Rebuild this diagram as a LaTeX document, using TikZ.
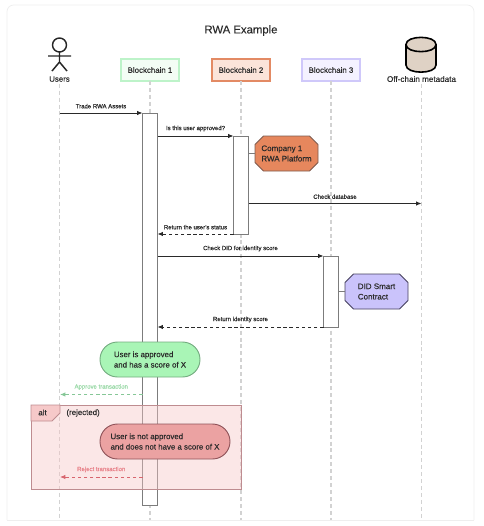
\documentclass[tikz,border=0pt]{standalone}
\usepackage{fontspec}
\setmainfont{Liberation Sans}[FakeBold=0.15]
\newfontfamily\lblf{Liberation Sans}[FakeBold=0.4]
\usetikzlibrary{shapes.misc,shapes.geometric,arrows.meta}
\definecolor{ink}{HTML}{2A2A2A}
\definecolor{lifegray}{HTML}{D2D2D2}
\definecolor{actgray}{HTML}{7C7C7C}
\definecolor{cardgray}{HTML}{EEEEEE}
\definecolor{h1b}{HTML}{BDF3C9}\definecolor{h1f}{HTML}{F3FDF5}
\definecolor{h2b}{HTML}{E38A64}\definecolor{h2f}{HTML}{FBE4DA}
\definecolor{h3b}{HTML}{CFC8FA}\definecolor{h3f}{HTML}{F4F2FF}
\definecolor{dbf}{HTML}{DFD2C5}
\definecolor{cof}{HTML}{E6875D}\definecolor{cob}{HTML}{7D5A4E}
\definecolor{didf}{HTML}{CAC3FB}\definecolor{didb}{HTML}{45405E}
\definecolor{okf}{HTML}{A9F5B6}\definecolor{okb}{HTML}{74AC80}
\definecolor{nof}{HTML}{EBA2A2}\definecolor{nob}{HTML}{90545A}
\definecolor{altf}{HTML}{F6C6C6}\definecolor{altb}{HTML}{BE8C90}
\definecolor{tabf}{HTML}{F6C9C9}
\definecolor{okt}{HTML}{9BD9A8}\definecolor{oka}{HTML}{86C797}
\definecolor{not}{HTML}{E8828A}\definecolor{noa}{HTML}{D8656E}
\tikzset{
  x=0.75pt,y=-0.75pt,
  every node/.style={text=ink,inner sep=0pt,outer sep=0pt},
  head/.style={line width=1.25pt,minimum width=43.5pt,minimum height=16.5pt,font=\fontsize{5.9}{7}\selectfont},
  life/.style={lifegray,line width=0.9pt,dash pattern=on 3pt off 2.2pt},
  act/.style={draw=actgray,fill=white,line width=0.7pt,minimum width=11.25pt},
  msg/.style={ink,line width=0.7pt,-{Latex[length=4pt,width=3.4pt]}},
  ret/.style={msg,dash pattern=on 2.6pt off 2pt},
  lbl/.style={font=\lblf\fontsize{4.5}{5.5}\selectfont,anchor=south},
  octotext/.style={minimum width=47.25pt,minimum height=26.25pt,font=\fontsize{6.0}{7.8}\selectfont,align=left},
  octopath/.style={line width=0.7pt},
  pill/.style={rounded rectangle,line width=0.7pt,minimum height=26.25pt,font=\fontsize{5.9}{7.8}\selectfont,align=left},
  stub/.style={actgray,line width=0.7pt},
}
\newcommand{\octagonat}[2]{%
  \path[octopath,#2] ([shift={(-31.5,-9)}]#1) -- ([shift={(-23,-17.5)}]#1) -- ([shift={(23,-17.5)}]#1) -- ([shift={(31.5,-9)}]#1) -- ([shift={(31.5,9)}]#1) -- ([shift={(23,17.5)}]#1) -- ([shift={(-23,17.5)}]#1) -- ([shift={(-31.5,9)}]#1) -- cycle;}
\begin{document}
\begin{tikzpicture}
\useasboundingbox (0,0) rectangle (484,526);
\draw[draw=cardgray,line width=0.6pt,rounded corners=5pt] (7,520) -- (7,5) -- (474,5) -- (474,520);
\draw[draw=cardgray,line width=0.6pt] (7,520) -- (474,520);
\node[font=\fontsize{8.5}{10}\selectfont] (title) at (241,30.5) {RWA Example};

% actor
\node[circle,draw=black!85,line width=1.1pt,minimum size=10.5pt] (head) at (59.5,45) {};
\coordinate (hip) at (59.5,62);
\coordinate (armL) at (48,56);
\coordinate (armR) at (71,56);
\coordinate (legL) at (52,71);
\coordinate (legR) at (67,71);
\draw[black!85,line width=1.1pt] (head.south) -- (hip) (armL) -- (armR) (legL) -- (hip) -- (legR);
\node[font=\fontsize{5.9}{7}\selectfont] (users) at (59.5,79) {Users};

% headers
\node[head,draw=h1b,fill=h1f] (b1) at (150,70) {Blockchain 1};
\node[head,draw=h2b,fill=h2f] (b2) at (241,70) {Blockchain 2};
\node[head,draw=h3b,fill=h3f] (b3) at (331,70) {Blockchain 3};
% database cylinder
\draw[draw=black,line width=1.2pt,fill=dbf] (406,44.5) -- (406,65) .. controls (406,74.5) and (436,74.5) .. (436,65) -- (436,44.5) .. controls (436,35) and (406,35) .. (406,44.5) -- cycle;
\draw[draw=black,line width=1.2pt] (406,44.5) .. controls (406,54) and (436,54) .. (436,44.5);
\node[font=\fontsize{6.1}{7}\selectfont] (off) at (421.5,79) {Off-chain metadata};

% lifeline ends
\coordinate (e0) at (59.5,520);
\coordinate (e1) at (150,520);
\coordinate (e2) at (241,520);
\coordinate (e3) at (331,520);
\coordinate (e4) at (421.5,520);
\draw[life] (users.south) ++(0,2) -- (e0);
\draw[life] (b1.south) -- (e1);
\draw[life] (b2.south) -- (e2);
\draw[life] (b3.south) -- (e3);
\draw[life] (off.south) ++(0,2) -- (e4);

% activations
\node[act,minimum height=294pt] (a1) at (150,309) {};
\node[act,minimum height=73.5pt] (a2) at (241,185) {};
\node[act,minimum height=53.25pt] (a3) at (331,291.5) {};

% trade
\coordinate (u1) at (59.5,113);
\draw[msg] (u1) -- (a1.north west) node[lbl,pos=0.5,above=3.5pt] {Trade RWA Assets};
\coordinate (s2) at (157.5,136);
\draw[msg] (s2) -- (a2.north west) node[lbl,pos=0.5,above=3.5pt] {Is this user approved?};

% Company 1
\coordinate (coc) at (286.5,153.5);
\octagonat{coc}{draw=cob,fill=cof}
\node[octotext] (co) at (coc) {Company 1\\RWA Platform};
\draw[stub] (co.west) -- (co.west -| a2.east);

% check database
\coordinate (s3) at (248.5,203.5);
\coordinate (t3) at (421.5,203.5);
\draw[msg] (s3) -- (t3) node[lbl,pos=0.5,above=3.5pt] {Check database};

% return status
\coordinate (t4) at (157.5,234);
\draw[ret] (a2.south west) -- (t4) node[lbl,pos=0.5,above=3.5pt] {Return the user's status};

% Check DID
\coordinate (s5) at (157.5,256);
\draw[msg] (s5) -- (a3.north west) node[lbl,pos=0.5,above=3.5pt] {Check DID for identity score};

% DID
\coordinate (didc) at (376.5,291.5);
\octagonat{didc}{draw=didb,fill=didf}
\node[octotext] (did) at (didc) {DID Smart\\Contract};
\draw[stub] (did.west) -- (did.west -| a3.east);

% return identity
\coordinate (t6) at (157.5,327);
\draw[ret] (a3.south west) -- (t6) node[lbl,pos=0.5,above=3.5pt] {Return identity score};

% green pill
\node[pill,draw=okb,fill=okf,minimum width=75pt] (ok) at (150,359.5) {User is approved\\and has a score of X};

% approve
\coordinate (s7) at (142.5,394.5);
\coordinate (t7) at (60,394.5);
\draw[ret,oka] (s7) -- (t7) node[lbl,pos=0.5,above=3.5pt,text=okt] {Approve transaction};

% alt frame
\path[fill=altf,fill opacity=0.42] (31,405) rectangle (241,489);
\node[draw=altb,line width=0.7pt,minimum width=157.5pt,minimum height=63pt] (alt) at (136,447) {};
\path[draw=altb,line width=0.7pt,fill=tabf] (31,405) -- (60,405) -- (60,413) -- (52,421) -- (31,421) -- cycle;
\node[font=\fontsize{5.9}{7}\selectfont] (alttag) at (42.5,412.5) {alt};
\node[font=\fontsize{5.9}{7}\selectfont,anchor=west] (rej) at (66.5,413) {(rejected)};

% red pill
\node[pill,draw=nob,fill=nof,minimum width=97.5pt] (no) at (165,441.5) {User is not approved\\and does not have a score of X};

% reject
\coordinate (s8) at (142.5,477);
\coordinate (t8) at (60,477);
\draw[ret,noa] (s8) -- (t8) node[lbl,pos=0.5,above=3.5pt,text=not] {Reject transaction};
\end{tikzpicture}
\end{document}
